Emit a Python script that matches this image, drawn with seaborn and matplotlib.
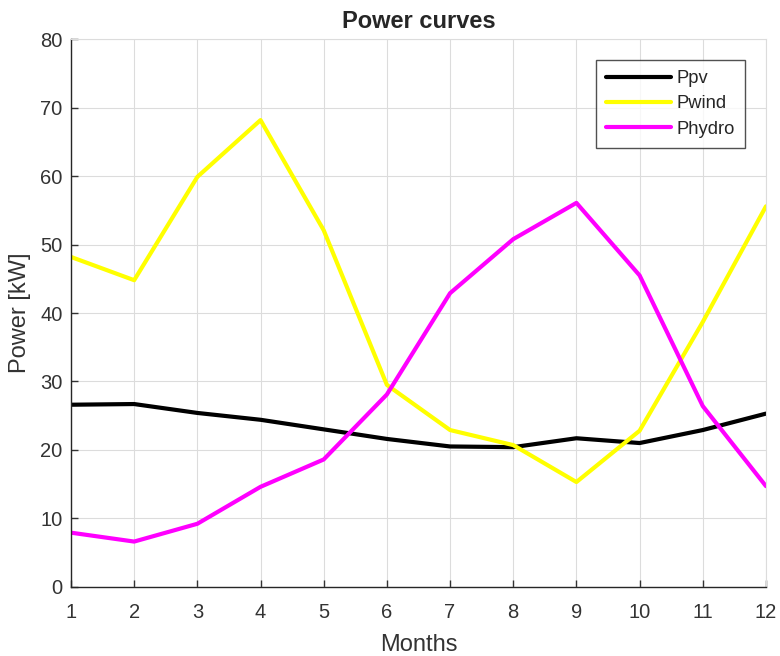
import numpy as np
import pandas as pd
import matplotlib
matplotlib.use("Agg")
import matplotlib.pyplot as plt
import seaborn as sns

months = list(range(1, 13))
ppv = [26.6, 26.7, 25.4, 24.4, 23.0, 21.6, 20.5, 20.4, 21.7, 21.0, 22.9, 25.3]
pwind = [48.2, 44.8, 59.9, 68.2, 52.1, 29.5, 22.9, 20.7, 15.3, 22.8, 38.7, 55.6]
phydro = [7.9, 6.6, 9.2, 14.6, 18.6, 28.1, 42.9, 50.8, 56.1, 45.5, 26.4, 14.7]
series_names = ["Ppv", "Pwind", "Phydro"]
series_colors = ["#000000", "#ffff00", "#ff00ff"]

df = pd.DataFrame({
    "Months": months * 3,
    "Power": ppv + pwind + phydro,
    "Series": [n for n in series_names for _ in months],
})

sns.set_style("white")
plt.rcParams["font.family"] = ["Liberation Sans", "DejaVu Sans"]

fig = plt.figure(figsize=(7.8, 6.56), dpi=100)
ax = fig.add_axes([0.091, 0.1056, 0.891, 0.8344])

sns.lineplot(data=df, x="Months", y="Power", hue="Series",
             palette=dict(zip(series_names, series_colors)),
             linewidth=3, ax=ax)

ax.set_xlim(1, 12)
ax.set_ylim(0, 80)
ax.set_xticks(months)
ax.set_yticks(range(0, 81, 10))
ax.grid(True, color="#dcdcdc", linewidth=0.8)
ax.set_axisbelow(True)

for side in ["top", "right"]:
    ax.spines[side].set_color("#dcdcdc")
    ax.spines[side].set_linewidth(0.8)
for side in ["left", "bottom"]:
    ax.spines[side].set_color("#262626")
    ax.spines[side].set_linewidth(1.0)

ax.tick_params(axis="both", direction="in", length=5, width=1,
               colors="#333333", labelsize=14.5,
               left=True, bottom=True)
ax.tick_params(axis="y", pad=6)
ax.tick_params(axis="x", pad=12)

ax.set_xlabel("Months", fontsize=17, color="#333333", labelpad=8)
ax.set_ylabel("Power [kW]", fontsize=17, color="#333333", labelpad=7)
ax.set_title("Power curves", fontsize=17, fontweight="bold", pad=8)

leg = ax.legend(loc="upper right", bbox_to_anchor=(0.970, 0.962),
                handlelength=3.5, handletextpad=0.33, fontsize=13.2,
                frameon=True, fancybox=False, borderpad=0.55,
                labelspacing=0.45, borderaxespad=0)
leg.get_frame().set_edgecolor("#262626")
leg.get_frame().set_linewidth(1.0)
for line in leg.get_lines():
    line.set_linewidth(3)

fig.savefig("out.png", dpi=100)
